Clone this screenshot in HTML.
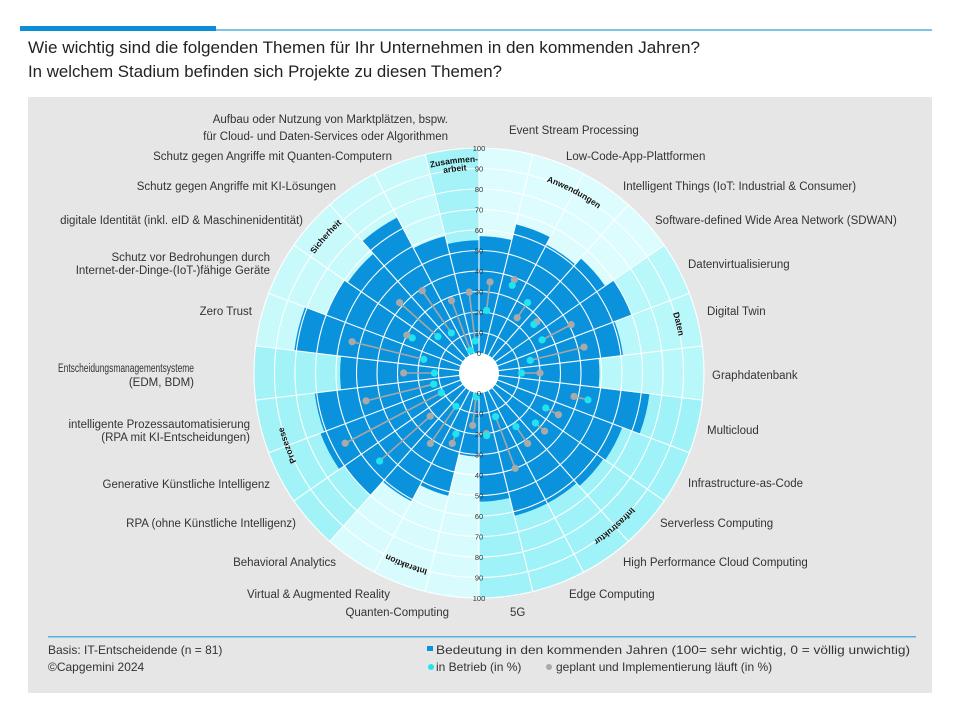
<!DOCTYPE html>
<html><head><meta charset="utf-8">
<style>
html,body{margin:0;padding:0;background:#fff;}
svg{display:block;font-family:"Liberation Sans",sans-serif;}
</style></head>
<body>
<svg id="chart" width="960" height="720" viewBox="0 0 960 720" xmlns="http://www.w3.org/2000/svg">
  <rect x="20" y="26" width="196" height="5" fill="#0a8fd6"/>
  <rect x="216" y="29" width="716" height="2" fill="#7cc4e6"/>
  <text x="28" y="53" font-size="17" fill="#222" textLength="672" lengthAdjust="spacingAndGlyphs">Wie wichtig sind die folgenden Themen für Ihr Unternehmen in den kommenden Jahren?</text>
  <text x="28" y="77" font-size="17" fill="#222" textLength="474" lengthAdjust="spacingAndGlyphs">In welchem Stadium befinden sich Projekte zu diesen Themen?</text>
  <rect x="28" y="97" width="904" height="596" fill="#e6e6e6"/>
  <g id="plot"></g>
  <g id="labels" font-size="11.5" fill="#333">
    <text x="448" y="123" text-anchor="end">Aufbau oder Nutzung von Marktplätzen, bspw.</text>
    <text x="448" y="140" text-anchor="end">für Cloud- und Daten-Services oder Algorithmen</text>
    <text x="392" y="160" text-anchor="end">Schutz gegen Angriffe mit Quanten-Computern</text>
    <text x="336" y="190" text-anchor="end">Schutz gegen Angriffe mit KI-Lösungen</text>
    <text x="303" y="224" text-anchor="end">digitale Identität (inkl. eID &amp; Maschinenidentität)</text>
    <text x="270" y="261" text-anchor="end">Schutz vor Bedrohungen durch</text>
    <text x="270" y="274" text-anchor="end">Internet-der-Dinge-(IoT-)fähige Geräte</text>
    <text x="252" y="315" text-anchor="end">Zero Trust</text>
    <text x="58" y="372" textLength="136" lengthAdjust="spacingAndGlyphs">Entscheidungsmanagementsysteme</text>
    <text x="194" y="386" text-anchor="end">(EDM, BDM)</text>
    <text x="250" y="428" text-anchor="end">intelligente Prozessautomatisierung</text>
    <text x="250" y="441" text-anchor="end">(RPA mit KI-Entscheidungen)</text>
    <text x="270" y="488" text-anchor="end">Generative Künstliche Intelligenz</text>
    <text x="296" y="527" text-anchor="end">RPA (ohne Künstliche Intelligenz)</text>
    <text x="336" y="566" text-anchor="end">Behavioral Analytics</text>
    <text x="390" y="598" text-anchor="end">Virtual &amp; Augmented Reality</text>
    <text x="449" y="616" text-anchor="end">Quanten-Computing</text>
    <text x="509" y="134">Event Stream Processing</text>
    <text x="566" y="160">Low-Code-App-Plattformen</text>
    <text x="623" y="190">Intelligent Things (IoT: Industrial &amp; Consumer)</text>
    <text x="655" y="224">Software-defined Wide Area Network (SDWAN)</text>
    <text x="688" y="268">Datenvirtualisierung</text>
    <text x="707" y="315">Digital Twin</text>
    <text x="712" y="379">Graphdatenbank</text>
    <text x="707" y="434">Multicloud</text>
    <text x="688" y="487">Infrastructure-as-Code</text>
    <text x="660" y="527">Serverless Computing</text>
    <text x="623" y="566">High Performance Cloud Computing</text>
    <text x="569" y="598">Edge Computing</text>
    <text x="510" y="616">5G</text>
  </g>
  <rect x="48" y="636" width="868" height="1.5" fill="#5aaedb"/>
  <text x="48" y="654" font-size="12" fill="#333">Basis: IT-Entscheidende (n = 81)</text>
  <text x="48" y="671" font-size="12" fill="#333">©Capgemini 2024</text>
  <g>
    <rect x="427" y="646" width="6" height="5" fill="#0a93dc"/>
    <text x="436" y="654" font-size="12" fill="#333" textLength="474" lengthAdjust="spacingAndGlyphs">Bedeutung in den kommenden Jahren (100= sehr wichtig, 0 = völlig unwichtig)</text>
    <circle cx="431" cy="667" r="3" fill="#22e4ee"/>
    <text x="436" y="671" font-size="12" fill="#333">in Betrieb (in %)</text>
    <circle cx="549" cy="667" r="3" fill="#aaaaaa"/>
    <text x="556" y="671" font-size="12" fill="#333">geplant und Implementierung läuft (in %)</text>
  </g>
</svg>
<script>
const categories = ["Event Stream Processing","Low-Code-App-Plattformen","Intelligent Things","SDWAN","Datenvirtualisierung","Digital Twin","Graphdatenbank","Multicloud","Infrastructure-as-Code","Serverless Computing","High Performance Cloud Computing","Edge Computing","5G","Quanten-Computing","Virtual & Augmented Reality","Behavioral Analytics","RPA","Generative KI","Intelligente Prozessautomatisierung","EDM","Zero Trust","IoT-Schutz","Digitale Identität","KI-Schutz","Quanten-Schutz","Marktplätze"];
const importance = [57,65,61,65,70,61,49,74,65,64,62,62,53,31,52,61,70,73,71,58,81,70,68,76,59,55];
const inOperation = [21,36,32,26,25,16,11,45,27,27,22,13,21,2,22,10,55,11,13,12,18,27,17,14,2,6];
const planned = [35,39,23,28,41,43,20,38,34,33,32,40,20,16,27,32,22,64,47,27,54,30,42,39,28,30];
const groupNames = ["Anwendungen","Daten","Infrastruktur","Interaktion","Prozesse","Sicherheit","Zusammenarbeit"];
const groupSizes = [4,3,6,3,4,5,1];
const groupColors = ["#dcfcfd","#b8f7fa","#9ff3f8","#d8fcfd","#a2f3f8","#c8f9fb","#a4f3f8"];
const tickValues = [0,10,20,30,40,50,60,70,80,90,100];

const NS = "http://www.w3.org/2000/svg";
const cx = 479, cy = 373, hole = 20, scale = 2.05;
const n = categories.length, step = 360 / n;
function rScale(v){ return hole + v * scale; }
function pt(angle, r){ const a = angle*Math.PI/180; return [cx + r*Math.sin(a), cy - r*Math.cos(a)]; }
function wedge(a0, a1, r0, r1){
  const p0=pt(a0,r1), p1=pt(a1,r1), p2=pt(a1,r0), p3=pt(a0,r0);
  return `M${p0[0]},${p0[1]} A${r1},${r1} 0 0 1 ${p1[0]},${p1[1]} L${p2[0]},${p2[1]} A${r0},${r0} 0 0 0 ${p3[0]},${p3[1]} Z`;
}
function mk(tag, attrs, parent){ const e=document.createElementNS(NS,tag); for(const k in attrs) e.setAttribute(k,attrs[k]); parent.appendChild(e); return e; }
const plot = document.getElementById('plot');

let idx = 0;
groupSizes.forEach((s,g)=>{
  const e = mk('path',{d:wedge(idx*step,(idx+s)*step,hole,rScale(100)),fill:groupColors[g]},plot);
  
  
  idx += s;
});
importance.forEach((v,i)=>{
  const e = mk('path',{d:wedge(i*step,(i+1)*step,hole,rScale(v)),fill:'#0a93dc'},plot);
  
  
});
tickValues.forEach(t=>{
  if(t===0) return;
  const e = mk('circle',{cx:cx,cy:cy,r:rScale(t),fill:'none',stroke:'#fff','stroke-width':1.1},plot);
  
  
});
for(let i=0;i<n;i++){
  const a=pt(i*step,hole), b=pt(i*step,rScale(100));
  const e = mk('line',{x1:a[0],y1:a[1],x2:b[0],y2:b[1],stroke:'#fff','stroke-width':1.1},plot);
  
  
}
const h = mk('circle',{cx:cx,cy:cy,r:hole,fill:'#fff'},plot);


categories.forEach((c,i)=>{
  const a=(i+0.5)*step;
  const p1=pt(a,rScale(inOperation[i])), p2=pt(a,rScale(planned[i]));
  const l = mk('line',{x1:p1[0],y1:p1[1],x2:p2[0],y2:p2[1],stroke:'#a6a6a6','stroke-width':1.6},plot);
  
  
  const g = mk('circle',{cx:p2[0],cy:p2[1],r:3.6,fill:'#a9a9a9'},plot);
  
  
  const d = mk('circle',{cx:p1[0],cy:p1[1],r:3.6,fill:'#22e4ee'},plot);
  
  
});
tickValues.forEach(t=>{
  const r=rScale(t);
  const a = mk('text',{x:cx,y:cy-r+3,'font-size':7.5,fill:'#333','text-anchor':'middle'},plot);
  a.textContent=t;
  
  
  const b = mk('text',{x:cx,y:cy+r+3,'font-size':7.5,fill:'#333','text-anchor':'middle'},plot);
  b.textContent=t;
  
  
});
const defs = mk('defs',{},plot);
[203,211].forEach(r=>{
  mk('path',{id:'arc'+r,d:`M${cx},${cy-r} A${r},${r} 0 1 1 ${cx},${cy+r} A${r},${r} 0 1 1 ${cx},${cy-r}`,fill:'none'},defs);
});
function arcText(str, angle, r){
  const t = mk('text',{'font-size':8.5,'font-weight':'bold',fill:'#111','text-anchor':'middle'},plot);
  const tp = mk('textPath',{href:'#arc'+r,startOffset:(angle*Math.PI/180*r)},t);
  tp.textContent=str;
  return t;
}
idx = 0;
groupSizes.forEach((s,g)=>{
  const mid = (idx + s/2)*step;
  if(groupNames[g]==='Zusammenarbeit'){
    const t1 = arcText('Zusammen-', mid, 211);
    
    
    const t2 = arcText('arbeit', mid, 203);
    
    
  } else {
    const t = arcText(groupNames[g], mid, 203);
    
    
  }
  idx += s;
});
</script>
</body></html>
